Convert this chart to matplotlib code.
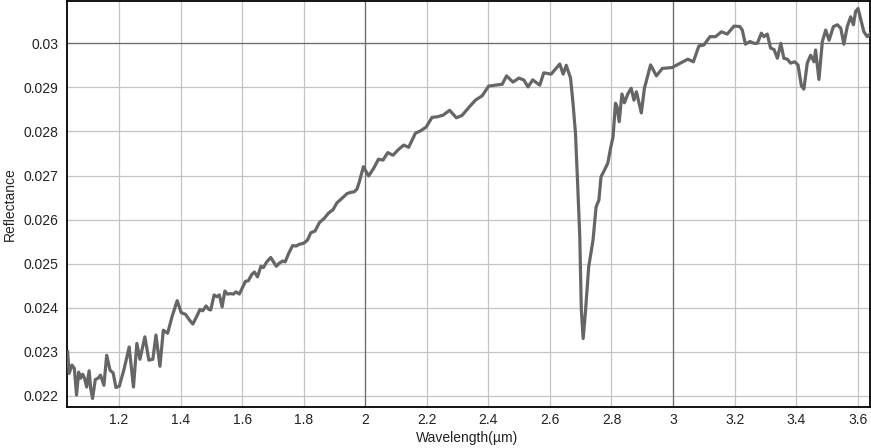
import matplotlib
matplotlib.use("Agg")
import matplotlib.pyplot as plt
from matplotlib.ticker import FuncFormatter, MultipleLocator

# spectrum
wavelength = [
    1.033, 1.038, 1.047, 1.055, 1.062, 1.069, 1.075, 1.082, 1.088, 1.095,
    1.103, 1.108, 1.114, 1.123, 1.132, 1.140, 1.151, 1.160, 1.171, 1.181,
    1.190, 1.201, 1.217, 1.233, 1.247, 1.258, 1.268, 1.284, 1.297, 1.310,
    1.320, 1.333, 1.344, 1.358, 1.372, 1.389, 1.402, 1.416, 1.429, 1.440,
    1.453, 1.463, 1.472, 1.483, 1.492, 1.498, 1.509, 1.518, 1.526, 1.535,
    1.544, 1.552, 1.563, 1.572, 1.580, 1.591, 1.600, 1.611, 1.620, 1.632,
    1.640, 1.650, 1.661, 1.669, 1.680, 1.693, 1.702, 1.711, 1.721, 1.732,
    1.740, 1.751, 1.764, 1.776, 1.786, 1.799, 1.812, 1.823, 1.837, 1.851,
    1.867, 1.881, 1.895, 1.908, 1.924, 1.941, 1.954, 1.964, 1.973, 1.981,
    1.994, 2.011, 2.027, 2.043, 2.058, 2.073, 2.090, 2.108, 2.125, 2.141,
    2.163, 2.179, 2.198, 2.217, 2.233, 2.253, 2.274, 2.296, 2.314, 2.336,
    2.358, 2.380, 2.401, 2.423, 2.445, 2.459, 2.480, 2.499, 2.515, 2.529,
    2.544, 2.567, 2.580, 2.604, 2.632, 2.643, 2.653, 2.667, 2.675, 2.683,
    2.690, 2.697, 2.702, 2.708, 2.715, 2.726, 2.740, 2.750, 2.759, 2.766,
    2.777, 2.788, 2.797, 2.805, 2.813, 2.818, 2.825, 2.834, 2.842, 2.853,
    2.864, 2.873, 2.881, 2.897, 2.907, 2.927, 2.946, 2.965, 2.997, 3.024,
    3.048, 3.066, 3.084, 3.100, 3.120, 3.138, 3.157, 3.176, 3.198, 3.217,
    3.225, 3.235, 3.250, 3.263, 3.274, 3.287, 3.295, 3.306, 3.317, 3.328,
    3.339, 3.350, 3.360, 3.371, 3.382, 3.395, 3.406, 3.417, 3.425, 3.436,
    3.447, 3.458, 3.463, 3.474, 3.485, 3.496, 3.507, 3.521, 3.534, 3.545,
    3.555, 3.566, 3.577, 3.586, 3.593, 3.601, 3.609, 3.620, 3.631, 3.642,
]
reflectance = [
    0.02300, 0.02251, 0.02270, 0.02262, 0.02202, 0.02254, 0.02240, 0.02249, 0.02240, 0.02220,
    0.02257, 0.02217, 0.02194, 0.02237, 0.02240, 0.02247, 0.02224, 0.02292, 0.02258, 0.02252,
    0.02219, 0.02222, 0.02262, 0.02311, 0.02220, 0.02319, 0.02283, 0.02334, 0.02281, 0.02283,
    0.02338, 0.02267, 0.02349, 0.02342, 0.02379, 0.02416, 0.02389, 0.02385, 0.02372, 0.02363,
    0.02381, 0.02396, 0.02393, 0.02404, 0.02396, 0.02395, 0.02429, 0.02425, 0.02429, 0.02402,
    0.02438, 0.02431, 0.02432, 0.02431, 0.02436, 0.02431, 0.02444, 0.02460, 0.02461, 0.02476,
    0.02481, 0.02470, 0.02494, 0.02491, 0.02504, 0.02514, 0.02504, 0.02494, 0.02501, 0.02506,
    0.02504, 0.02523, 0.02541, 0.02540, 0.02544, 0.02546, 0.02553, 0.02570, 0.02574, 0.02593,
    0.02603, 0.02615, 0.02622, 0.02638, 0.02648, 0.02659, 0.02662, 0.02663, 0.02669, 0.02686,
    0.02720, 0.02699, 0.02716, 0.02737, 0.02735, 0.02752, 0.02746, 0.02759, 0.02769, 0.02764,
    0.02796, 0.02801, 0.02810, 0.02832, 0.02833, 0.02837, 0.02848, 0.02831, 0.02836, 0.02854,
    0.02871, 0.02881, 0.02903, 0.02905, 0.02907, 0.02926, 0.02912, 0.02921, 0.02917, 0.02901,
    0.02917, 0.02905, 0.02933, 0.02930, 0.02953, 0.02930, 0.02950, 0.02921, 0.02864, 0.02796,
    0.02682, 0.02561, 0.02395, 0.02330, 0.02387, 0.02493, 0.02553, 0.02629, 0.02644, 0.02697,
    0.02712, 0.02728, 0.02762, 0.02787, 0.02864, 0.02856, 0.02822, 0.02885, 0.02865, 0.02885,
    0.02898, 0.02871, 0.02890, 0.02842, 0.02898, 0.02951, 0.02926, 0.02943, 0.02945, 0.02955,
    0.02964, 0.02958, 0.02994, 0.02996, 0.03015, 0.03015, 0.03026, 0.03021, 0.03039, 0.03038,
    0.03030, 0.02998, 0.03004, 0.03000, 0.03000, 0.03023, 0.03015, 0.03021, 0.02989, 0.02986,
    0.02966, 0.03000, 0.02966, 0.02964, 0.02955, 0.02958, 0.02951, 0.02903, 0.02896, 0.02955,
    0.02973, 0.02958, 0.02985, 0.02918, 0.03004, 0.03030, 0.03007, 0.03038, 0.03042, 0.03034,
    0.02998, 0.03038, 0.03060, 0.03042, 0.03072, 0.03079, 0.03057, 0.03026, 0.03015, 0.03023,
]

plt.rcParams["font.family"] = ["Liberation Sans", "DejaVu Sans"]

fig = plt.figure(figsize=(8.71, 4.48), dpi=100)
ax = fig.add_axes([0.0769, 0.0908, 0.922, 0.907])

ax.plot(wavelength, reflectance, color="#666666", lw=2.3, zorder=3)

ax.set_xlim(1.031, 3.64)
ax.set_ylim(0.02174, 0.03096)
ax.xaxis.set_major_locator(MultipleLocator(0.2))
ax.yaxis.set_major_locator(MultipleLocator(0.001))
ax.xaxis.set_major_formatter(FuncFormatter(lambda v, p: "%g" % round(v, 3)))
ax.yaxis.set_major_formatter(FuncFormatter(lambda v, p: "%g" % round(v, 4)))

ax.grid(True, color="#c4c4c4", lw=0.9)
# darker lines at the whole values
for x in (2, 3):
    ax.axvline(x, color="#6e6e6e", lw=0.9, zorder=1)
ax.axhline(0.03, color="#6e6e6e", lw=0.9, zorder=1)
ax.set_axisbelow(True)

ax.tick_params(axis="x", length=0, labelsize=10, pad=4, colors="#222222")
ax.tick_params(axis="y", length=0, labelsize=10, pad=6, colors="#222222")
for s in ax.spines.values():
    s.set_color("black")
    s.set_linewidth(1.3)

# axis titles placed by hand so they stay inside the small figure
fig.text(467 / 871, 1 - 438 / 448, "Wavelength(µm)", fontsize=10, color="#222222",
         ha="center", va="center")
fig.text(10 / 871, 1 - 204 / 448, "Reflectance", fontsize=10, color="#222222",
         ha="center", va="center", rotation=90)

fig.savefig("out.png", dpi=100)
